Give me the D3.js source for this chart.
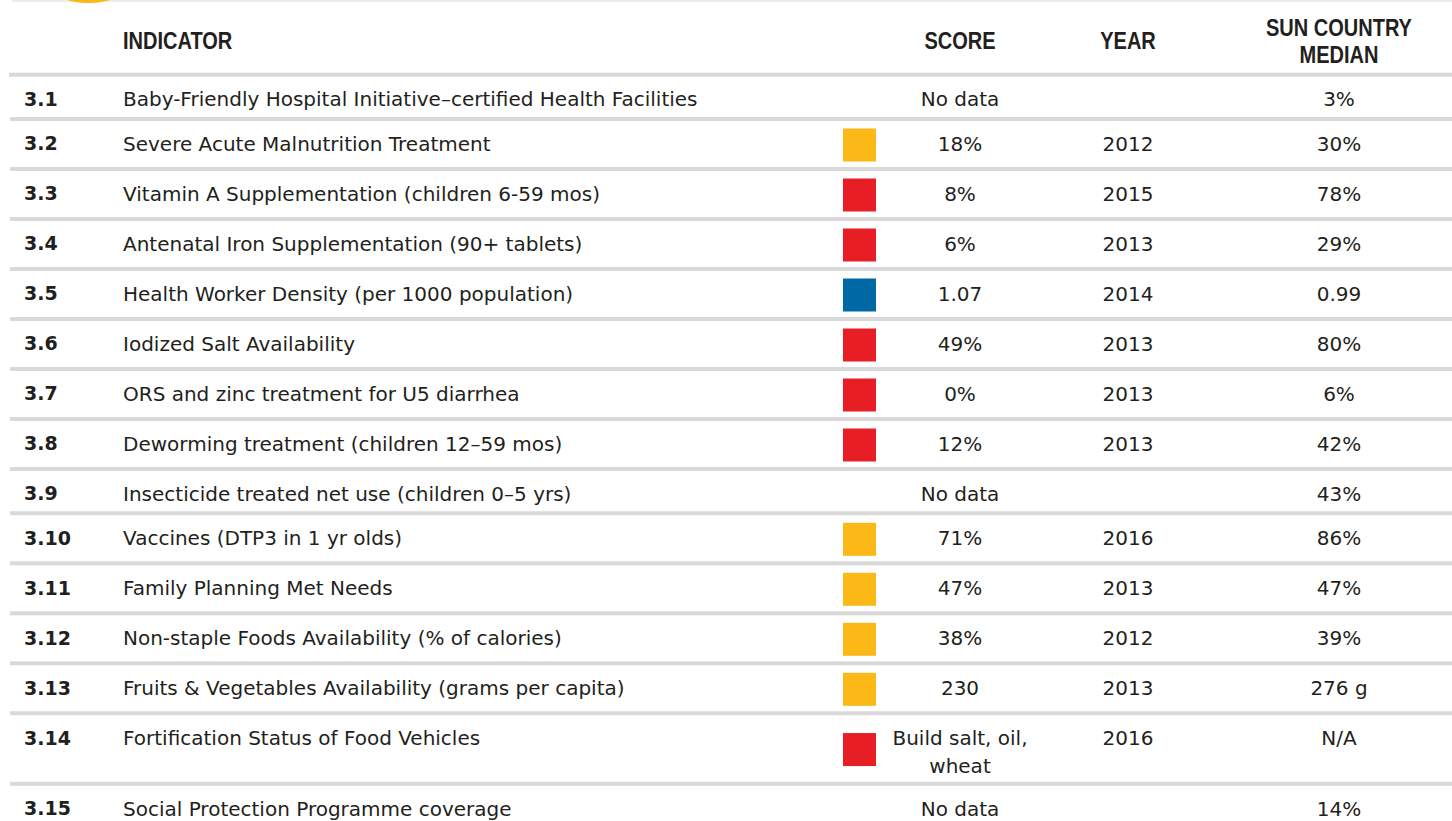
<!DOCTYPE html>
<html>
<head>
<meta charset="utf-8">
<script src="https://cdn.jsdelivr.net/npm/d3@7"></script>
<style>
  html, body { margin: 0; padding: 0; background: #ffffff; }
  svg { display: block; }
</style>
</head>
<body>
<svg id="chart" width="1452" height="821"></svg>
<script>
// ---- data ----
const ids = ["3.1","3.2","3.3","3.4","3.5","3.6","3.7","3.8","3.9","3.10","3.11","3.12","3.13","3.14","3.15"];
const indicators = [
  "Baby-Friendly Hospital Initiative\u2013certified Health Facilities",
  "Severe Acute Malnutrition Treatment",
  "Vitamin A Supplementation (children 6-59 mos)",
  "Antenatal Iron Supplementation (90+ tablets)",
  "Health Worker Density (per 1000 population)",
  "Iodized Salt Availability",
  "ORS and zinc treatment for U5 diarrhea",
  "Deworming treatment (children 12\u201359 mos)",
  "Insecticide treated net use (children 0\u20135 yrs)",
  "Vaccines (DTP3 in 1 yr olds)",
  "Family Planning Met Needs",
  "Non-staple Foods Availability (% of calories)",
  "Fruits & Vegetables Availability (grams per capita)",
  "Fortification Status of Food Vehicles",
  "Social Protection Programme coverage"
];
const scores = ["No data","18%","8%","6%","1.07","49%","0%","12%","No data","71%","47%","38%","230","Build salt, oil,\nwheat","No data"];
const years = ["","2012","2015","2013","2014","2013","2013","2013","","2016","2013","2012","2013","2016",""];
const medians = ["3%","30%","78%","29%","0.99","80%","6%","42%","43%","86%","47%","39%","276 g","N/A","14%"];
const statuses = [null,"amber","red","red","blue","red","red","red",null,"amber","amber","amber","amber","red",null];
const headers = ["INDICATOR","SCORE","YEAR","SUN COUNTRY\nMEDIAN"];

// ---- layout / style ----
const W = 1452;
const textColor = "#231f20";
const lineColor = "#d9d9d9";
const bodyFont = "'DejaVu Sans', 'Liberation Sans', Arial, sans-serif";
const headFont = "'Liberation Sans', Arial, sans-serif";
const color = d3.scaleOrdinal().domain(["amber","red","blue"]).range(["#fbb817","#e81e25","#0068a5"]);

const col = { id: 24, ind: 123, box: 859.5, score: 960, year: 1128, median: 1339 };
const headerLineY = 74.7;

const rows = ids.map((id, i) => {
  const lines = scores[i].split("\n");
  const base = statuses[i] ? 50 : 44.3;
  return { id, ind: indicators[i], lines, year: years[i], median: medians[i], status: statuses[i], h: base + (lines.length - 1) * 20.5 };
});
const tops = [headerLineY, ...d3.cumsum(rows, r => r.h).map(v => v + headerLineY)];
rows.forEach((r, i) => { r.top = tops[i]; r.bottom = tops[i + 1]; });

const svg = d3.select("#chart");

// top decoration
svg.append("rect").attr("x", 12).attr("y", 0).attr("width", W - 12).attr("height", 2).attr("fill", "#ececec");
svg.append("circle").attr("cx", 88.5).attr("cy", -77).attr("r", 80).attr("fill", "#fbb817");

// header
const hg = svg.append("g").attr("font-family", headFont).attr("font-weight", "bold").attr("font-size", 23).attr("fill", textColor);
const headX = [col.ind, col.score, col.year, col.median];
const headAnchor = ["start", "middle", "middle", "middle"];
headers.forEach((h, i) => {
  const parts = h.split("\n");
  const lh = 27;
  parts.forEach((p, j) => {
    const cy = 41 + (j - (parts.length - 1) / 2) * lh;
    hg.append("text")
      .attr("transform", `translate(${headX[i]},${cy}) scale(0.87,1)`)
      .attr("text-anchor", headAnchor[i])
      .attr("dy", "0.36em")
      .text(p);
  });
});

// separator lines
svg.append("g").selectAll("rect").data(rows).join("rect")
  .attr("x", (d, i) => i === 0 ? 9 : 10)
  .attr("y", d => d.top - 2)
  .attr("width", (d, i) => W - (i === 0 ? 9 : 10))
  .attr("height", 4)
  .attr("fill", lineColor);

// rows
const rg = svg.append("g").selectAll("g").data(rows).join("g")
  .attr("transform", d => `translate(0,${d.top + 24.5})`)
  .attr("fill", textColor)
  .attr("font-family", bodyFont)
  .attr("font-size", 20);

rg.append("text").attr("x", col.id).attr("dy", "0.36em")
  .attr("font-weight", "bold").attr("font-size", 19).text(d => d.id);
rg.append("text").attr("x", col.ind).attr("dy", "0.36em").text(d => d.ind);

rg.filter(d => d.status).append("rect")
  .attr("x", col.box - 16.5)
  .attr("y", d => (d.bottom - d.top) / 2 - 24.5 + 1 - 16.5)
  .attr("width", 33).attr("height", 33)
  .attr("fill", d => color(d.status));

rg.each(function(d) {
  const g = d3.select(this);
  d.lines.forEach((l, j) => {
    g.append("text").attr("x", col.score).attr("y", j * 28).attr("dy", "0.36em")
      .attr("text-anchor", "middle").text(l);
  });
});
rg.append("text").attr("x", col.year).attr("dy", "0.36em").attr("text-anchor", "middle").text(d => d.year);
rg.append("text").attr("x", col.median).attr("dy", "0.36em").attr("text-anchor", "middle").text(d => d.median);
</script>
</body>
</html>
